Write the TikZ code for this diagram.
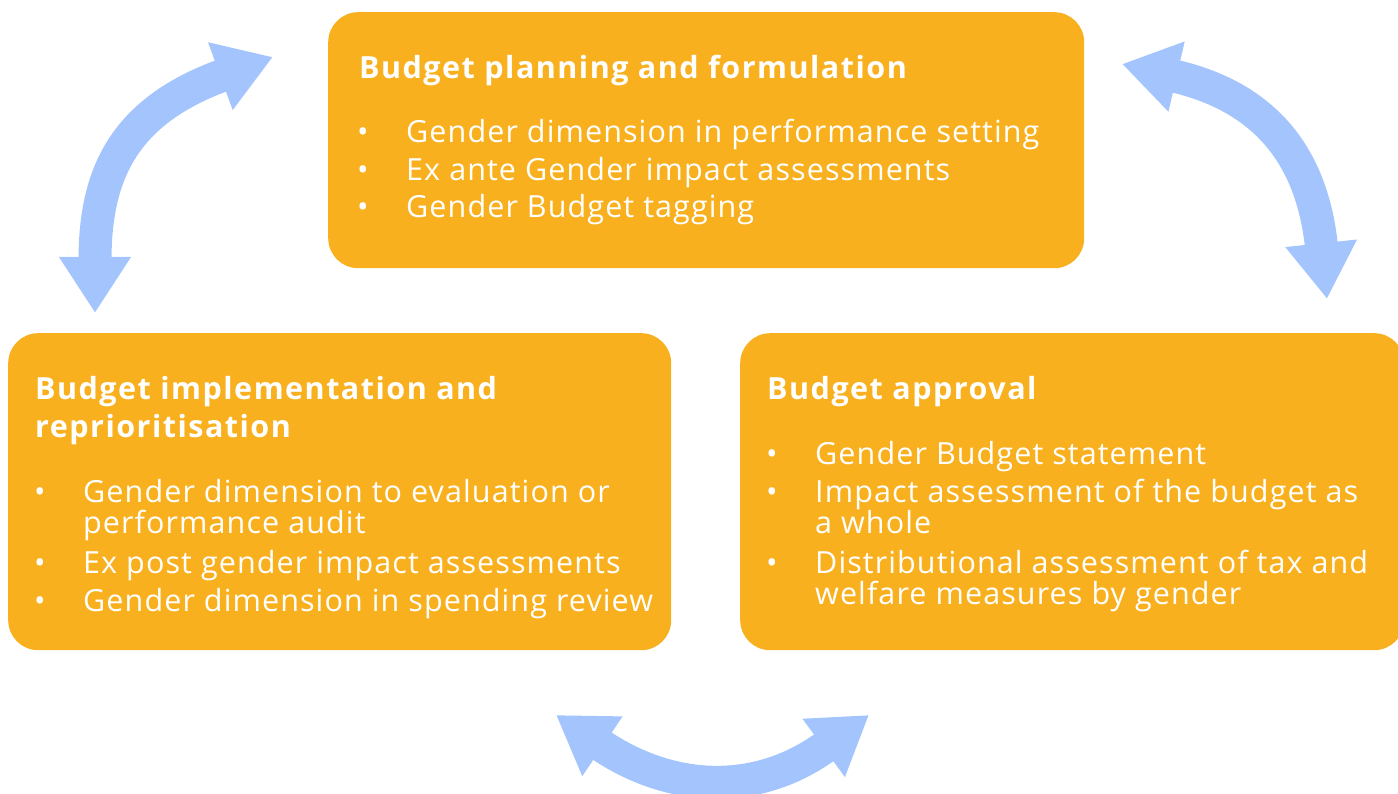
\documentclass[tikz,border=0pt]{standalone}
\usepackage{fontspec}
\setmainfont{Open Sans}[LetterSpace=3.6, BoldFeatures={LetterSpace=4.9}]
\usepackage{xcolor}
\usetikzlibrary{arrows.meta}

\definecolor{stageorange}{HTML}{F9B01E}
\definecolor{cycleblue}{HTML}{A4C4FE}

\newcommand{\stagefont}{\fontsize{30.5}{31}\selectfont}
\newcommand{\headfont}{\fontsize{30.5}{38}\selectfont\bfseries}
% bullet list kept in a \vtop so that the node's base is the first line
\newcommand{\stagelist}[1]{\vtop{\hsize=700pt\parindent=0pt\parskip=0pt\raggedright #1\par}}
\newcommand{\stageitem}{\hangindent=49pt\hangafter=1\noindent\makebox[49pt][l]{\textbullet}}

\tikzset{
  stage/.style={rectangle, fill=stageorange, rounded corners=30pt, anchor=north west, inner sep=0pt},
  heading/.style={anchor=base west, text=white, font=\headfont, inner sep=0pt, align=left},
  points/.style={anchor=base west, text=white, font=\stagefont, inner sep=0pt},
  cycle/.style={draw=cycleblue, line width=33pt,
    {Triangle[length=56pt,width=68pt]}-{Triangle[length=56pt,width=68pt]}}
}

\begin{document}
\begin{tikzpicture}[x=1pt, y=1pt]
  \useasboundingbox (0,0) rectangle (1398,794);

  % the three stages
  \node[stage, minimum width=756pt, minimum height=256pt] (plan) at (328,782) {};
  \node[stage, minimum width=663pt, minimum height=317pt] (impl) at (8,461) {};
  \node[stage, minimum width=664pt, minimum height=317pt] (appr) at (740,461) {};

  % planning
  \node[heading] (plan-title) at (359,715) {Budget planning and formulation};
  \node[points] (plan-list) at (357,651) {\stagelist{%
    \stageitem Gender dimension in performance setting\par\vskip7pt
    \stageitem Ex ante Gender impact assessments\par\vskip6pt
    \stageitem Gender Budget tagging}};

  % implementation
  \node[heading] (impl-title) at (35,394) {\stagelist{%
    Budget implementation and\par
    reprioritisation}};
  \node[points] (impl-list) at (34,291) {\stagelist{%
    \stageitem Gender dimension to evaluation or\newline performance audit\par\vskip9pt
    \stageitem Ex post gender impact assessments\par\vskip7pt
    \stageitem Gender dimension in spending review}};

  % approval
  \node[heading] (appr-title) at (767,394) {Budget approval};
  \node[points] (appr-list) at (766,329) {\stagelist{%
    \stageitem Gender Budget statement\par\vskip7pt
    \stageitem Impact assessment of the budget as\newline a whole\par\vskip9pt
    \stageitem Distributional assessment of tax and\newline welfare measures by gender}};

  % cycle arrows
  \coordinate (ia) at (95,481);
  \coordinate (pa) at (273,737);
  \coordinate (pb) at (1122,730);
  \coordinate (ab) at (1327,495);
  \coordinate (ac) at (869,79);
  \coordinate (ic) at (556,79);

  \draw[cycle] (ia) .. controls +(90:139) and +(200:159) .. (pa);
  \draw[cycle] (pb) .. controls +(-13:141) and +(96:150) .. (ab);
  \draw[cycle] (ic) .. controls +(-34:139) and +(216:139) .. (ac);
\end{tikzpicture}
\end{document}
